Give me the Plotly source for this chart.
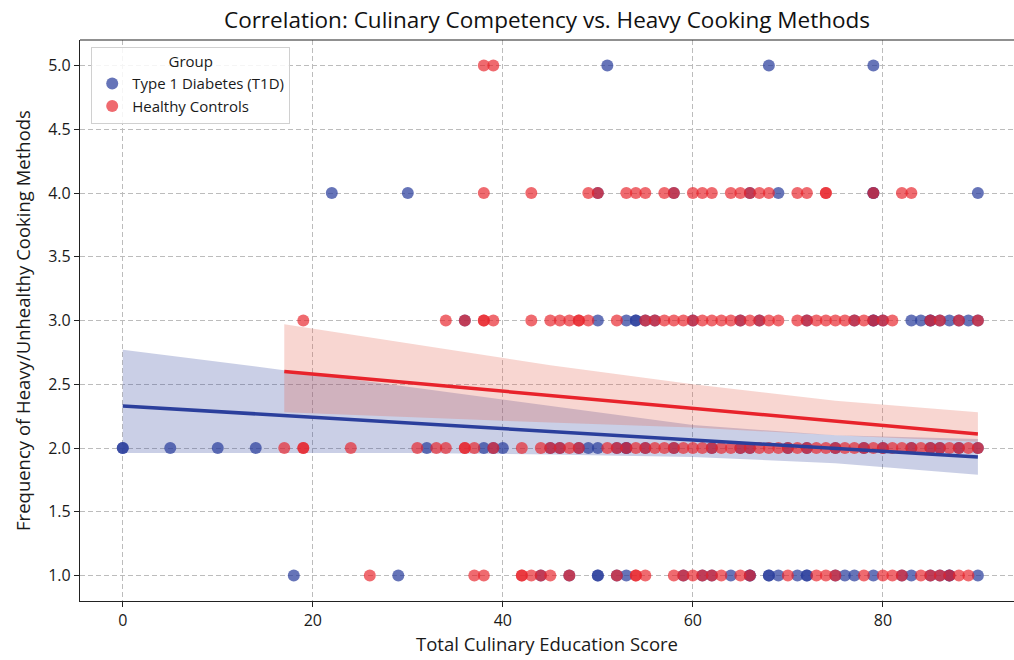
import plotly.graph_objects as go

# Culinary education score vs. reported frequency of heavy cooking methods
# Type 1 Diabetes group, grouped by frequency level
t1d_score_f5 = [51, 68, 79]
t1d_score_f4 = [22, 30, 50, 58, 66, 69, 79, 79, 90]
t1d_score_f3 = [36, 50, 53, 54, 54, 55, 56, 60, 65, 67, 72, 77, 79, 79, 80,
                83, 84, 85, 85, 86, 87, 88, 89, 90]
t1d_score_f2 = [0, 0, 5, 10, 14, 32, 38, 39, 40, 45, 46, 48, 49, 50, 52, 53,
                53, 55, 58, 62, 65, 66, 70, 72, 75, 78, 80, 83, 85, 86, 88, 90]
t1d_score_f1 = [18, 29, 44, 47, 50, 50, 52, 53, 59, 61, 62, 64, 66, 66, 68,
                68, 69, 71, 72, 72, 75, 76, 77, 79, 82, 83, 85, 86, 87, 87, 90]

# Healthy controls, grouped by frequency level
hc_score_f5 = [38, 39]
hc_score_f4 = [38, 43, 49, 50, 53, 54, 55, 57, 58, 60, 61, 62, 64, 65, 66, 67,
               68, 71, 72, 74, 74, 79, 82, 83]
hc_score_f3 = [19, 34, 36, 38, 38, 39, 43, 45, 46, 47, 48, 48, 49, 52, 55, 56,
               57, 58, 59, 60, 61, 62, 63, 64, 65, 66, 67, 68, 69, 71, 72, 73,
               74, 75, 76, 77, 78, 79, 80, 81, 85, 86, 88, 90]
hc_score_f2 = [17, 19, 19, 24, 31, 33, 34, 36, 36, 37, 39, 42, 44, 45, 46, 47,
               48, 51, 52, 53, 54, 55, 56, 57, 58, 59, 60, 61, 62, 63, 64, 65,
               66, 67, 68, 69, 70, 71, 72, 73, 74, 75, 76, 77, 78, 79, 80, 81,
               82, 83, 84, 85, 86, 87, 88, 89, 90]
hc_score_f1 = [26, 37, 38, 42, 42, 43, 44, 45, 47, 52, 54, 54, 55, 58, 59, 60,
               61, 62, 63, 65, 66, 70, 73, 74, 75, 78, 80, 81, 82, 84, 85, 86,
               87, 88, 89]

freq_levels = [5, 4, 3, 2, 1]

# Linear fits with 95% confidence bands
t1d_fit_x = [0, 90]
t1d_fit_y = [2.33, 1.93]
t1d_band_x = [0, 15, 30, 45, 60, 75, 90]
t1d_band_hi = [2.77, 2.63, 2.48, 2.33, 2.18, 2.10, 2.07]
t1d_band_lo = [1.96, 1.96, 1.96, 1.95, 1.93, 1.88, 1.79]

hc_fit_x = [17, 90]
hc_fit_y = [2.60, 2.11]
hc_band_x = [17, 30, 45, 60, 75, 90]
hc_band_hi = [2.97, 2.82, 2.65, 2.50, 2.37, 2.28]
hc_band_lo = [2.28, 2.24, 2.20, 2.16, 2.10, 2.05]

x_ticks = [0, 20, 40, 60, 80]
y_ticks = [1.0, 1.5, 2.0, 2.5, 3.0, 3.5, 4.0, 4.5, 5.0]

BLUE = "#2b3f9c"
RED = "#e8232b"
FONT = "Open Sans, sans-serif"


def expand(rows):
    xs, ys = [], []
    for level, scores in zip(freq_levels, rows):
        xs += scores
        ys += [level] * len(scores)
    return xs, ys


t1d_x, t1d_y = expand([t1d_score_f5, t1d_score_f4, t1d_score_f3,
                       t1d_score_f2, t1d_score_f1])
hc_x, hc_y = expand([hc_score_f5, hc_score_f4, hc_score_f3,
                     hc_score_f2, hc_score_f1])


def rgba(hex_color, a):
    h = hex_color.lstrip("#")
    r, g, b = (int(h[i:i + 2], 16) for i in (0, 2, 4))
    return f"rgba({r},{g},{b},{a})"


def band(xs, lo, hi, fill):
    return go.Scatter(
        x=xs + xs[::-1], y=hi + lo[::-1], fill="toself",
        fillcolor=fill, line=dict(width=0),
        mode="lines", hoverinfo="skip", showlegend=False)


fig = go.Figure()
fig.add_trace(go.Scatter(
    x=t1d_x, y=t1d_y, mode="markers", name="Type 1 Diabetes (T1D)",
    marker=dict(size=12, color=rgba(BLUE, 0.72), line=dict(width=0))))
fig.add_trace(band(t1d_band_x, t1d_band_lo, t1d_band_hi, rgba(BLUE, 0.25)))
fig.add_trace(go.Scatter(
    x=hc_x, y=hc_y, mode="markers", name="Healthy Controls",
    marker=dict(size=12, color=rgba(RED, 0.68), line=dict(width=0))))
fig.add_trace(band(hc_band_x, hc_band_lo, hc_band_hi, "rgba(226,90,70,0.25)"))
fig.add_trace(go.Scatter(x=t1d_fit_x, y=t1d_fit_y, mode="lines",
                         line=dict(color=BLUE, width=3.5), showlegend=False))
fig.add_trace(go.Scatter(x=hc_fit_x, y=hc_fit_y, mode="lines",
                         line=dict(color=RED, width=3.5), showlegend=False))

grid = dict(showgrid=True, gridcolor="#bcbcbc", griddash="5px,3px", gridwidth=1)

fig.update_layout(
    width=1014, height=660,
    margin=dict(l=80, r=0, t=40, b=59),
    paper_bgcolor="white", plot_bgcolor="white",
    font=dict(family=FONT, color="#1a1a1a", size=16),
    title=dict(text="Correlation: Culinary Competency vs. Heavy Cooking Methods",
               x=0.5, xref="paper", y=1 - 20 / 660, yref="container",
               xanchor="center", yanchor="middle",
               font=dict(size=22.5, family=FONT, color="#111")),
    xaxis=dict(range=[-4.5, 93.8], tickvals=x_ticks, ticks="outside",
               ticklen=5, tickcolor="#222", showline=True, linecolor="#222",
               linewidth=1.2, zeroline=False,
               title=dict(text="Total Culinary Education Score",
                          font=dict(size=18.5), standoff=6),
               **grid),
    yaxis=dict(range=[0.8, 5.2], tickvals=y_ticks, tickformat=".1f",
               ticks="outside", ticklen=5, tickcolor="#222", showline=True,
               linecolor="#222", linewidth=1.2, zeroline=False,
               title=dict(text="Frequency of Heavy/Unhealthy Cooking Methods",
                          font=dict(size=18.5), standoff=12),
               **grid),
    legend=dict(x=0.012, y=0.988, xanchor="left", yanchor="top",
                bgcolor="rgba(255,255,255,0.85)", bordercolor="#d0d0d0",
                borderwidth=1, font=dict(size=15), tracegroupgap=4,
                title=dict(text="Group", side="top center",
                           font=dict(size=15))),
    shapes=[dict(type="line", xref="paper", yref="paper", x0=0, x1=1,
                 y0=1, y1=1, line=dict(color="#222", width=1.2))],
)

fig.write_html("out.html")
